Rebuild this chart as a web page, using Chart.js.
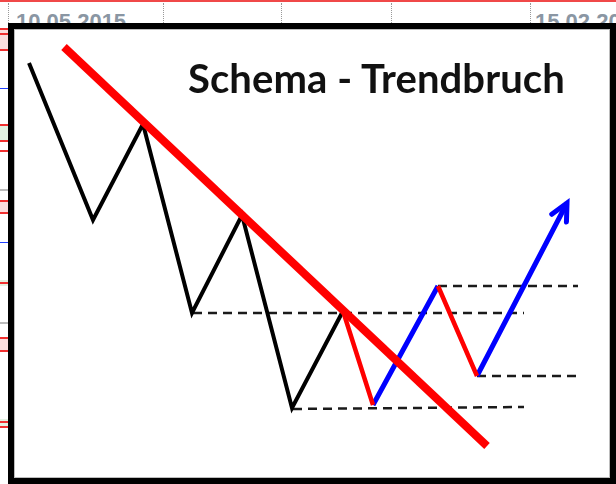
<!DOCTYPE html>
<html>
<head>
<meta charset="utf-8">
<script src="https://cdn.jsdelivr.net/npm/chart.js@4.4.1/dist/chart.umd.min.js"></script>
<style>
  html, body { margin: 0; padding: 0; background: #fff; }
  #wrap { position: relative; width: 616px; height: 484px; overflow: hidden; background: #fff; }
  .bg { position: absolute; }
  #topline { left: 0; top: 0; width: 616px; height: 2px; background: #f04848; }
  .date { position: absolute; top: 9px; font: bold 22px "Liberation Sans", Arial, sans-serif; color: #8a96a3; }
  .vdot { position: absolute; top: 3px; width: 1px; height: 20px; border-left: 1px dotted #999; }
  .tick { position: absolute; left: 0; width: 9px; height: 2px; background: #f03030; }
  .band { position: absolute; left: 0; width: 9px; }
  #box { position: absolute; left: 8px; top: 23px; width: 596px; height: 449px;
         border: 6px solid #000; border-right-width: 8px; border-bottom-width: 7px; background: #fff; }
  #inner { position: absolute; left: 0; top: 0; right: 0; bottom: 0; border: 1px solid #bdbdbd; }
  #chart { position: absolute; left: 0; top: 0; }
  #title { position: absolute; left: 188px; top: 54px; font: 700 40px Lato, "Open Sans", sans-serif;
           color: #111; white-space: nowrap; line-height: 48px; letter-spacing: 0.1px; }
</style>
</head>
<body>
<div id="wrap">
  <div class="bg" id="topline"></div>
  <div class="vdot" style="left:8px"></div>
  <div class="vdot" style="left:163px"></div>
  <div class="vdot" style="left:281px"></div>
  <div class="vdot" style="left:391px"></div>
  <div class="vdot" style="left:530px"></div>
  <div class="date" style="left:16px">10.05.2015</div>
  <div class="date" style="left:535px">15.02.2016</div>
  <div class="band" style="top:28px;height:22px;background:#fbdede"></div>
  <div class="band" style="top:124px;height:16px;background:#e2f2e2"></div>
  <div class="band" style="top:200px;height:12px;background:#fbdede"></div>
  <div class="band" style="top:280px;height:6px;background:#e2f2e2"></div>
  <div class="band" style="top:337px;height:13px;background:#fbdede"></div>
  <div class="band" style="top:419px;height:8px;background:#e2f2e2"></div>
  <div class="tick" style="top:28px"></div>
  <div class="tick" style="top:33px"></div>
  <div class="tick" style="top:49px"></div>
  <div class="tick" style="top:124px"></div>
  <div class="tick" style="top:140px"></div>
  <div class="tick" style="top:150px"></div>
  <div class="tick" style="top:200px"></div>
  <div class="tick" style="top:212px"></div>
  <div class="tick" style="top:282px"></div>
  <div class="tick" style="top:337px"></div>
  <div class="tick" style="top:350px"></div>
  <div class="tick" style="top:421px"></div>
  <div class="tick" style="top:426px"></div>
  <div class="tick" style="top:88px;background:#2040ff;height:1px"></div>
  <div class="tick" style="top:242px;background:#2040ff;height:1px"></div>
  <div class="bg" style="left:0;top:189px;width:9px;height:2px;background:#bbb"></div>
  <div class="bg" style="left:0;top:322px;width:9px;height:2px;background:#bbb"></div>
  <div id="box"><div id="inner"></div></div>
  <canvas id="chart" width="616" height="484"></canvas>
  <div id="title">Schema - Trendbruch</div>
</div>
<script>
// schematic values: x = time position, y = price level (higher = up)
var swingX = [29, 93, 143, 192, 242, 292, 343];
var swingY = [421, 264, 360, 171, 269, 76, 173];

// red pullbacks after the break (null = gap between the two legs)
var pullX = [343, 373, null, 438, 477];
var pullY = [173, 79, null, 198, 108];

// blue up legs
var upX = [373, 438, null, 477, 567];
var upY = [79, 198, null, 108, 281];

// falling trend line
var trendX = [64, 487];
var trendY = [437, 38];

// dashed support / resistance levels [xStart, xEnd, yStart, yEnd]
var lvlX0 = [193, 293, 438, 477];
var lvlX1 = [524, 524, 578, 582];
var lvlY0 = [171, 75, 198, 108];
var lvlY1 = [171, 77, 198, 108];

function pts(xs, ys) {
  return xs.map(function (x, i) {
    return x === null ? { x: NaN, y: null } : { x: x, y: ys[i] };
  });
}

var levelSets = lvlX0.map(function (x0, i) {
  return {
    data: [{ x: x0, y: lvlY0[i] }, { x: lvlX1[i], y: lvlY1[i] }],
    borderColor: '#1a1a1a',
    borderWidth: 2.5,
    borderDash: [9, 6],
    order: 5
  };
});

var arrowHead = {
  id: 'arrowHead',
  afterDatasetsDraw: function (chart) {
    var meta = chart.getDatasetMeta(2);
    var n = meta.data.length;
    var tip = meta.data[n - 1], prev = meta.data[n - 2];
    var ang = Math.atan2(prev.y - tip.y, prev.x - tip.x);
    var ctx = chart.ctx;
    ctx.save();
    ctx.strokeStyle = '#0000ff';
    ctx.lineWidth = 5;
    ctx.lineJoin = 'miter';
    ctx.lineCap = 'round';
    ctx.beginPath();
    ctx.moveTo(tip.x + 19 * Math.cos(ang + 0.45), tip.y + 19 * Math.sin(ang + 0.45));
    ctx.lineTo(tip.x, tip.y);
    ctx.lineTo(tip.x + 19 * Math.cos(ang - 0.45), tip.y + 19 * Math.sin(ang - 0.45));
    ctx.stroke();
    ctx.restore();
  }
};

new Chart(document.getElementById('chart'), {
  type: 'line',
  data: {
    datasets: [
      { data: pts(swingX, swingY), borderColor: '#000', borderWidth: 4, order: 3 },
      { data: pts(pullX, pullY), borderColor: '#ff0000', borderWidth: 4.5, order: 2 },
      { data: pts(upX, upY), borderColor: '#0000ff', borderWidth: 5, order: 2 },
      { data: pts(trendX, trendY), borderColor: '#ff0000', borderWidth: 8, order: 1 }
    ].concat(levelSets)
  },
  options: {
    responsive: false,
    animation: false,
    layout: { padding: 0 },
    elements: {
      point: { radius: 0 },
      line: { tension: 0, borderJoinStyle: 'miter', borderCapStyle: 'butt', fill: false }
    },
    spanGaps: false,
    plugins: { legend: { display: false }, tooltip: { enabled: false }, title: { display: false } },
    scales: {
      x: { type: 'linear', min: 0, max: 616, display: false },
      y: { type: 'linear', min: 0, max: 484, display: false }
    }
  },
  plugins: [arrowHead]
});
</script>
</body>
</html>
